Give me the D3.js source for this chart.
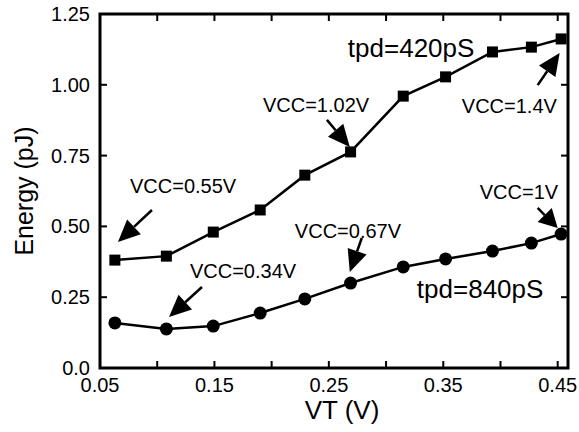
<!DOCTYPE html>
<html>
<head>
<meta charset="utf-8">
<script src="https://cdn.jsdelivr.net/npm/d3@7/dist/d3.min.js"></script>
<style>
  body { margin: 0; background: #fff; }
  text { font-family: "Liberation Sans", Arial, sans-serif; fill: #000; }
</style>
</head>
<body>
<div id="chart"></div>
<script>
const WIDTH = 579;
const HEIGHT = 432;
const MARGIN = { top: 14, right: 11, bottom: 64, left: 100 };

// VT (V) values, same for both curves
const vt = [0.063, 0.108, 0.149, 0.190, 0.229, 0.269, 0.315, 0.352, 0.393, 0.427, 0.453];
// tpd = 420pS curve (squares)
const energy420 = [0.381, 0.395, 0.480, 0.558, 0.681, 0.763, 0.960, 1.028, 1.116, 1.133, 1.162];
// tpd = 840pS curve (circles)
const energy840 = [0.159, 0.138, 0.148, 0.194, 0.244, 0.300, 0.357, 0.385, 0.413, 0.441, 0.473];

const xTicks = [0.05, 0.10, 0.15, 0.20, 0.25, 0.30, 0.35, 0.40, 0.45];
const xTickLabels = ['0.05', '', '0.15', '', '0.25', '', '0.35', '', '0.45'];
const yTicks = [0, 0.25, 0.5, 0.75, 1.0, 1.25];
const yTickLabels = ['0.0', '0.25', '0.50', '0.75', '1.00', '1.25'];

// labels in data coordinates; arrows go from tail [x, y] to tip [x, y]
const labels = [
  { text: 'VCC=0.55V', x: 0.0762, y: 0.618, size: 20, tail: [0.0954, 0.558], tip: [0.0657, 0.445] },
  { text: 'VCC=0.34V', x: 0.1286, y: 0.318, size: 20, tail: [0.1391, 0.286], tip: [0.1103, 0.180] },
  { text: 'VCC=1.02V', x: 0.1924, y: 0.904, size: 20, tail: [0.2483, 0.876], tip: [0.2683, 0.780] },
  { text: 'VCC=0.67V', x: 0.2203, y: 0.459, size: 20, tail: [0.2788, 0.459], tip: [0.2683, 0.339] },
  { text: 'VCC=1.4V', x: 0.3662, y: 0.900, size: 20, tail: [0.4325, 0.999], tip: [0.4517, 1.112] },
  { text: 'VCC=1V', x: 0.3819, y: 0.597, size: 20, tail: [0.4325, 0.565], tip: [0.4500, 0.494] },
  { text: 'tpd=420pS', x: 0.2666, y: 1.098, size: 26 },
  { text: 'tpd=840pS', x: 0.3269, y: 0.247, size: 26 }
];

document.addEventListener('DOMContentLoaded', function() {
  drawChart();
});

function addText(parent, x, y, str, size, anchor, rotate)
{
  var g = parent.append('g')
    .attr('transform', 'translate(' + x + ',' + y + ')' + (rotate ? ' rotate(' + rotate + ')' : ''));
  return g.append('text')
    .attr('font-size', size)
    .attr('text-anchor', anchor || 'start')
    .text(str);
}

function drawChart()
{
  var svg = d3.select('#chart').append('svg')
    .attr('width', WIDTH)
    .attr('height', HEIGHT);

  var x = d3.scaleLinear()
    .domain([0.05, 0.459])
    .range([MARGIN.left, WIDTH - MARGIN.right]);
  var y = d3.scaleLinear()
    .domain([0, 1.25])
    .range([HEIGHT - MARGIN.bottom, MARGIN.top]);

  var x0 = x.range()[0], x1 = x.range()[1];
  var y0 = y.range()[0], y1 = y.range()[1];
  var tickLen = 7;

  // ticks, pointing inwards
  var ticks = svg.append('g').attr('stroke', '#000').attr('stroke-width', 2);
  xTicks.forEach(function(t) {
    ticks.append('line').attr('x1', x(t)).attr('x2', x(t)).attr('y1', y0).attr('y2', y0 - tickLen);
    ticks.append('line').attr('x1', x(t)).attr('x2', x(t)).attr('y1', y1).attr('y2', y1 + tickLen);
  });
  yTicks.forEach(function(t) {
    ticks.append('line').attr('x1', x0).attr('x2', x0 + tickLen).attr('y1', y(t)).attr('y2', y(t));
    ticks.append('line').attr('x1', x1).attr('x2', x1 - tickLen).attr('y1', y(t)).attr('y2', y(t));
  });

  // frame
  svg.append('rect')
    .attr('x', x0).attr('y', y1)
    .attr('width', x1 - x0).attr('height', y0 - y1)
    .attr('fill', 'none').attr('stroke', '#000').attr('stroke-width', 3);

  // tick labels
  xTicks.forEach(function(t, i) {
    if (xTickLabels[i] == '') return;
    addText(svg, x(t), y0 + 24, xTickLabels[i], 20, 'middle');
  });
  yTicks.forEach(function(t, i) {
    addText(svg, x0 - 10, y(t) + 7, yTickLabels[i], 20, 'end');
  });

  // axis titles
  addText(svg, 342, HEIGHT - 13, 'VT (V)', 26, 'middle');
  addText(svg, 33, (y0 + y1) / 2, 'Energy (pJ)', 25, 'middle', -90);

  var line = d3.line()
    .x(function(d) { return x(d[0]); })
    .y(function(d) { return y(d[1]); });

  var data420 = vt.map(function(v, i) { return [v, energy420[i]]; });
  var data840 = vt.map(function(v, i) { return [v, energy840[i]]; });

  svg.append('path')
    .attr('d', line(data420))
    .style('stroke', '#000').style('stroke-width', 2.5).style('fill', 'none');
  svg.append('path')
    .attr('d', line(data840))
    .style('stroke', '#000').style('stroke-width', 2.5).style('fill', 'none');

  var sq = 11;
  svg.selectAll('rect.sq')
    .data(data420)
    .enter()
    .append('rect')
    .attr('class', 'sq')
    .attr('x', function(d) { return x(d[0]) - sq / 2; })
    .attr('y', function(d) { return y(d[1]) - sq / 2; })
    .attr('width', sq).attr('height', sq)
    .style('fill', '#000');

  svg.selectAll('circle.dot')
    .data(data840)
    .enter()
    .append('circle')
    .attr('class', 'dot')
    .attr('cx', function(d) { return x(d[0]); })
    .attr('cy', function(d) { return y(d[1]); })
    .attr('r', 6.5)
    .style('fill', '#000');

  // annotations
  labels.forEach(function(a) {
    addText(svg, x(a.x), y(a.y), a.text, a.size, 'start');
    if (!a.tail) return;
    drawArrow(svg, x(a.tail[0]), y(a.tail[1]), x(a.tip[0]), y(a.tip[1]));
  });
}

function drawArrow(svg, tx, ty, hx, hy)
{
  var dx = hx - tx, dy = hy - ty;
  var len = Math.sqrt(dx * dx + dy * dy);
  var ux = dx / len, uy = dy / len;
  var headLen = Math.min(22, len * 0.65);
  var headW = 10;
  var bx = hx - ux * headLen, by = hy - uy * headLen;

  svg.append('line')
    .attr('x1', tx).attr('y1', ty).attr('x2', bx).attr('y2', by)
    .attr('stroke', '#000').attr('stroke-width', 2.5);

  var pts = [
    [hx, hy],
    [bx - uy * headW, by + ux * headW],
    [bx + uy * headW, by - ux * headW]
  ];
  svg.append('path')
    .attr('d', 'M' + pts.map(function(p) { return p.join(','); }).join('L') + 'Z')
    .attr('fill', '#000');
}
</script>
</body>
</html>
